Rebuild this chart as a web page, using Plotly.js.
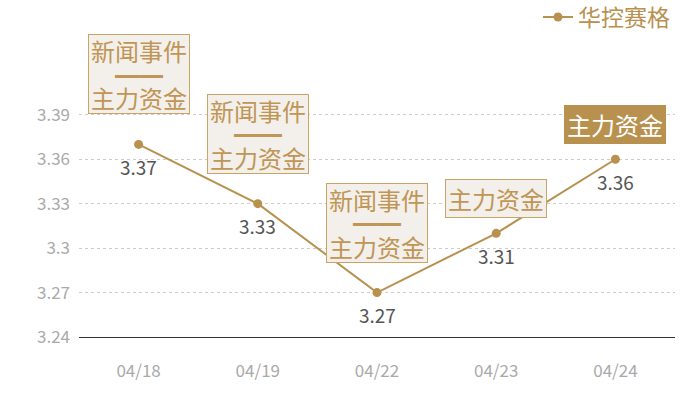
<!DOCTYPE html>
<html>
<head>
<meta charset="utf-8">
<script src="https://cdn.plot.ly/plotly-3.0.1.min.js"></script>
<style>
  body { margin: 0; background: #fff; }
  #chart { width: 700px; height: 400px; }
</style>
</head>
<body>
<div id="chart"></div>
<script>
// Chart data
const dates = ['04/18', '04/19', '04/22', '04/23', '04/24'];
const prices = [3.37, 3.33, 3.27, 3.31, 3.36];
const seriesName = '华控赛格';
const yTicks = [3.24, 3.27, 3.30, 3.33, 3.36, 3.39, 3.40];
const yTickText = ['3.24', '3.27', '3.3', '3.33', '3.36', '3.39', ''];
// Event tags above each point
const tags = [
    '新闻事件<br>━━<br>主力资金',
    '新闻事件<br>━━<br>主力资金',
    '新闻事件<br>━━<br>主力资金',
    '主力资金',
    '主力资金'
];
const highlighted = [false, false, false, false, true];

const gold = '#b8914f';
const tagText = '#c09555';
const font = '"Noto Sans CJK SC", "Noto Sans", sans-serif';

const trace = {
    x: dates,
    y: prices,
    name: seriesName,
    type: 'scatter',
    mode: 'lines+markers',
    line: { color: gold, width: 2 },
    marker: { color: gold, size: 9 },
    cliponaxis: false
};

// Value labels under each point
const valueLabels = prices.map((v, i) => ({
    x: dates[i],
    y: v,
    text: v.toFixed(2),
    showarrow: false,
    yshift: -22,
    font: { family: font, size: 19, color: '#555' }
}));

// Tag boxes above each point. Plotly's line spacing is too loose for the
// stacked tags, so those get an empty box plus one annotation per line.
const tagBoxes = [];
tags.forEach((t, i) => {
    const lines = t.split('<br>');
    const fill = highlighted[i] ? gold : '#f3f0eb';
    const edge = highlighted[i] ? gold : '#c9a465';
    const color = highlighted[i] ? '#fff' : tagText;
    if (lines.length === 1) {
        tagBoxes.push({
            x: dates[i], y: prices[i],
            text: t,
            showarrow: false,
            yshift: 34.5,
            width: 98,
            font: { family: font, size: 24, color: color },
            bgcolor: fill, bordercolor: edge, borderwidth: 1, borderpad: 1
        });
        return;
    }
    const center = 70;
    tagBoxes.push({
        x: dates[i], y: prices[i],
        text: ' ',
        showarrow: false,
        yshift: center,
        width: 98, height: 76,
        font: { family: font, size: 24, color: color },
        bgcolor: fill, bordercolor: edge, borderwidth: 1, borderpad: 1
    });
    const mid = (lines.length - 1) / 2;
    lines.forEach((line, k) => {
        tagBoxes.push({
            x: dates[i], y: prices[i],
            text: line,
            showarrow: false,
            yshift: center + (mid - k) * 23.5,
            font: { family: font, size: 24, color: color }
        });
    });
});

const layout = {
    width: 700,
    height: 400,
    margin: { l: 79, r: 25, t: 100, b: 63, autoexpand: false },
    paper_bgcolor: '#fff',
    plot_bgcolor: '#fff',
    font: { family: font },
    showlegend: true,
    legend: {
        x: 1.0, xanchor: 'right',
        y: 1.35, yanchor: 'middle',
        font: { family: font, size: 23, color: gold },
        bgcolor: 'rgba(0,0,0,0)',
        itemwidth: 30
    },
    xaxis: {
        type: 'category',
        range: [-0.5, 4.5],
        showgrid: false,
        showline: true,
        linecolor: '#333',
        linewidth: 1,
        ticks: '',
        ticklabelstandoff: 19,
        tickfont: { family: font, size: 17, color: '#aaa' },
        fixedrange: true
    },
    yaxis: {
        range: [3.24, 3.40],
        tickvals: yTicks,
        ticktext: yTickText,
        showgrid: true,
        gridcolor: '#ccc',
        griddash: 'dot',
        gridwidth: 1,
        zeroline: false,
        showline: false,
        ticks: '',
        ticklabelstandoff: 8,
        tickfont: { family: font, size: 17, color: '#aaa' },
        fixedrange: true
    },
    annotations: valueLabels.concat(tagBoxes)
};

Plotly.newPlot('chart', [trace], layout, { displayModeBar: false, staticPlot: true });
</script>
</body>
</html>
